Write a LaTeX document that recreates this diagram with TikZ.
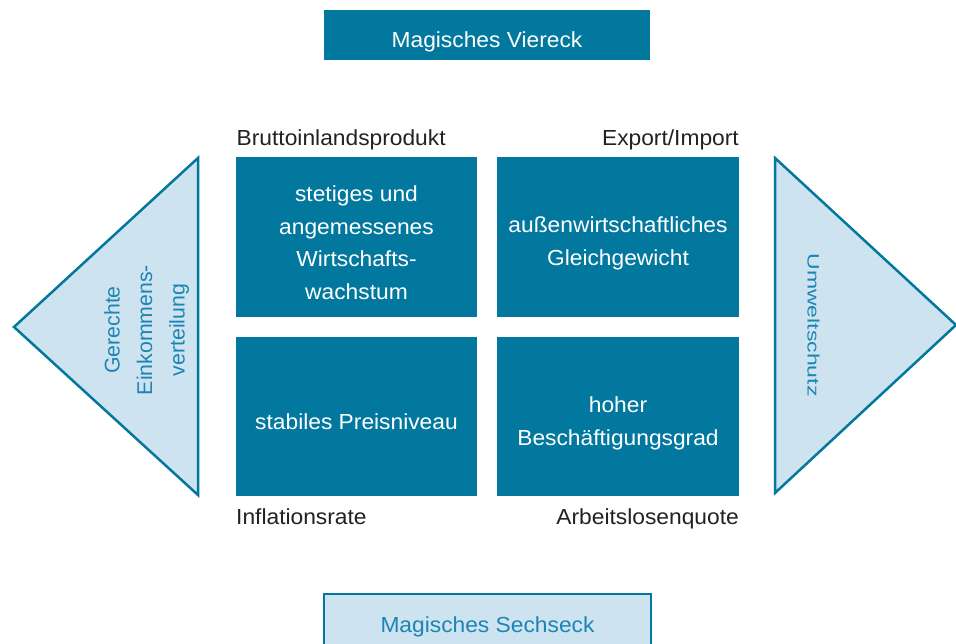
\documentclass[tikz,border=0pt]{standalone}
\usepackage{fontspec}
\setmainfont[FakeStretch=1.045]{Liberation Sans}
\newfontfamily\plainsans{Liberation Sans}
\definecolor{tealbox}{HTML}{03789F}
\definecolor{lightbox}{HTML}{CDE3EF}
\definecolor{tealtxt}{HTML}{1C85B6}
\definecolor{labeltxt}{HTML}{222222}
\tikzset{
  darkbox/.style={fill=tealbox, draw=none, inner sep=0pt, anchor=center},
  boxtext/.style={text=white, align=center, inner sep=0pt, font=\fontsize{21.8}{32.5}\selectfont},
  lighttext/.style={text=tealtxt, align=center, inner sep=0pt, font=\plainsans\fontsize{21.3}{32.5}\selectfont},
  outertext/.style={text=labeltxt, inner sep=0pt, font=\fontsize{21.8}{26}\selectfont},
  lightshape/.style={fill=lightbox, draw=tealbox, line width=2.5pt, line join=miter}
}
\begin{document}
\begin{tikzpicture}[x=1pt,y=1pt]
\useasboundingbox (0,0) rectangle (956,644);
\clip (0,0) rectangle (956,644);
\fill[white] (0,0) rectangle (956,644);

% title box
\node[darkbox, minimum width=326pt, minimum height=50pt] (viereck) at (487,609) {};
\node[boxtext, anchor=base] (viereckT) at (487,596.7) {Magisches Viereck};

% bottom box (cut by the page edge)
\path[lightshape] (324,-10) rectangle (651,50);
\node[text=tealtxt, inner sep=0pt, font=\fontsize{21.8}{26}\selectfont, anchor=base] (sechseck) at (487.5,11) {Magisches Sechseck};

% four goal boxes
\node[darkbox, minimum width=241pt, minimum height=160pt] (bip) at (356.5,407) {};
\node[darkbox, minimum width=242pt, minimum height=160pt] (aw) at (618,407) {};
\node[darkbox, minimum width=241pt, minimum height=159pt] (preis) at (356.5,227.5) {};
\node[darkbox, minimum width=242pt, minimum height=159pt] (besch) at (618,227.5) {};

\node[boxtext] (bipT) at (356.5,401.4) {stetiges und\\angemessenes\\Wirtschafts-\\wachstum};
\node[boxtext] (awT) at (618,400.4) {außenwirtschaftliches\\Gleichgewicht};
\node[boxtext] (preisT) at (356.5,221.9) {stabiles Preisniveau};
\node[boxtext] (beschT) at (618,220.4) {hoher\\Beschäftigungsgrad};

% indicator labels
\node[outertext, anchor=base west] (l1) at (236.5,498) {Bruttoinlandsprodukt};
\node[outertext, anchor=base east] (l2) at (739,498) {Export/Import};
\node[outertext, anchor=base west] (l3) at (236,119) {Inflationsrate};
\node[outertext, anchor=base east] (l4) at (739,119) {Arbeitslosenquote};

% side triangles
\path[lightshape] (198,486) -- (14,317) -- (198,149) -- cycle;
\path[lightshape] (775,486) -- (956,319) -- (775,151) -- cycle;

\node[lighttext, rotate=90] (einkommen) at (146.5,314) {Gerechte\\Einkommens-\\verteilung};
\node[lighttext, rotate=-90] (umwelt) at (813.5,319) {\scalebox{1}[0.72]{\plainsans\fontsize{23}{26}\selectfont Umweltschutz}};
\end{tikzpicture}
\end{document}
